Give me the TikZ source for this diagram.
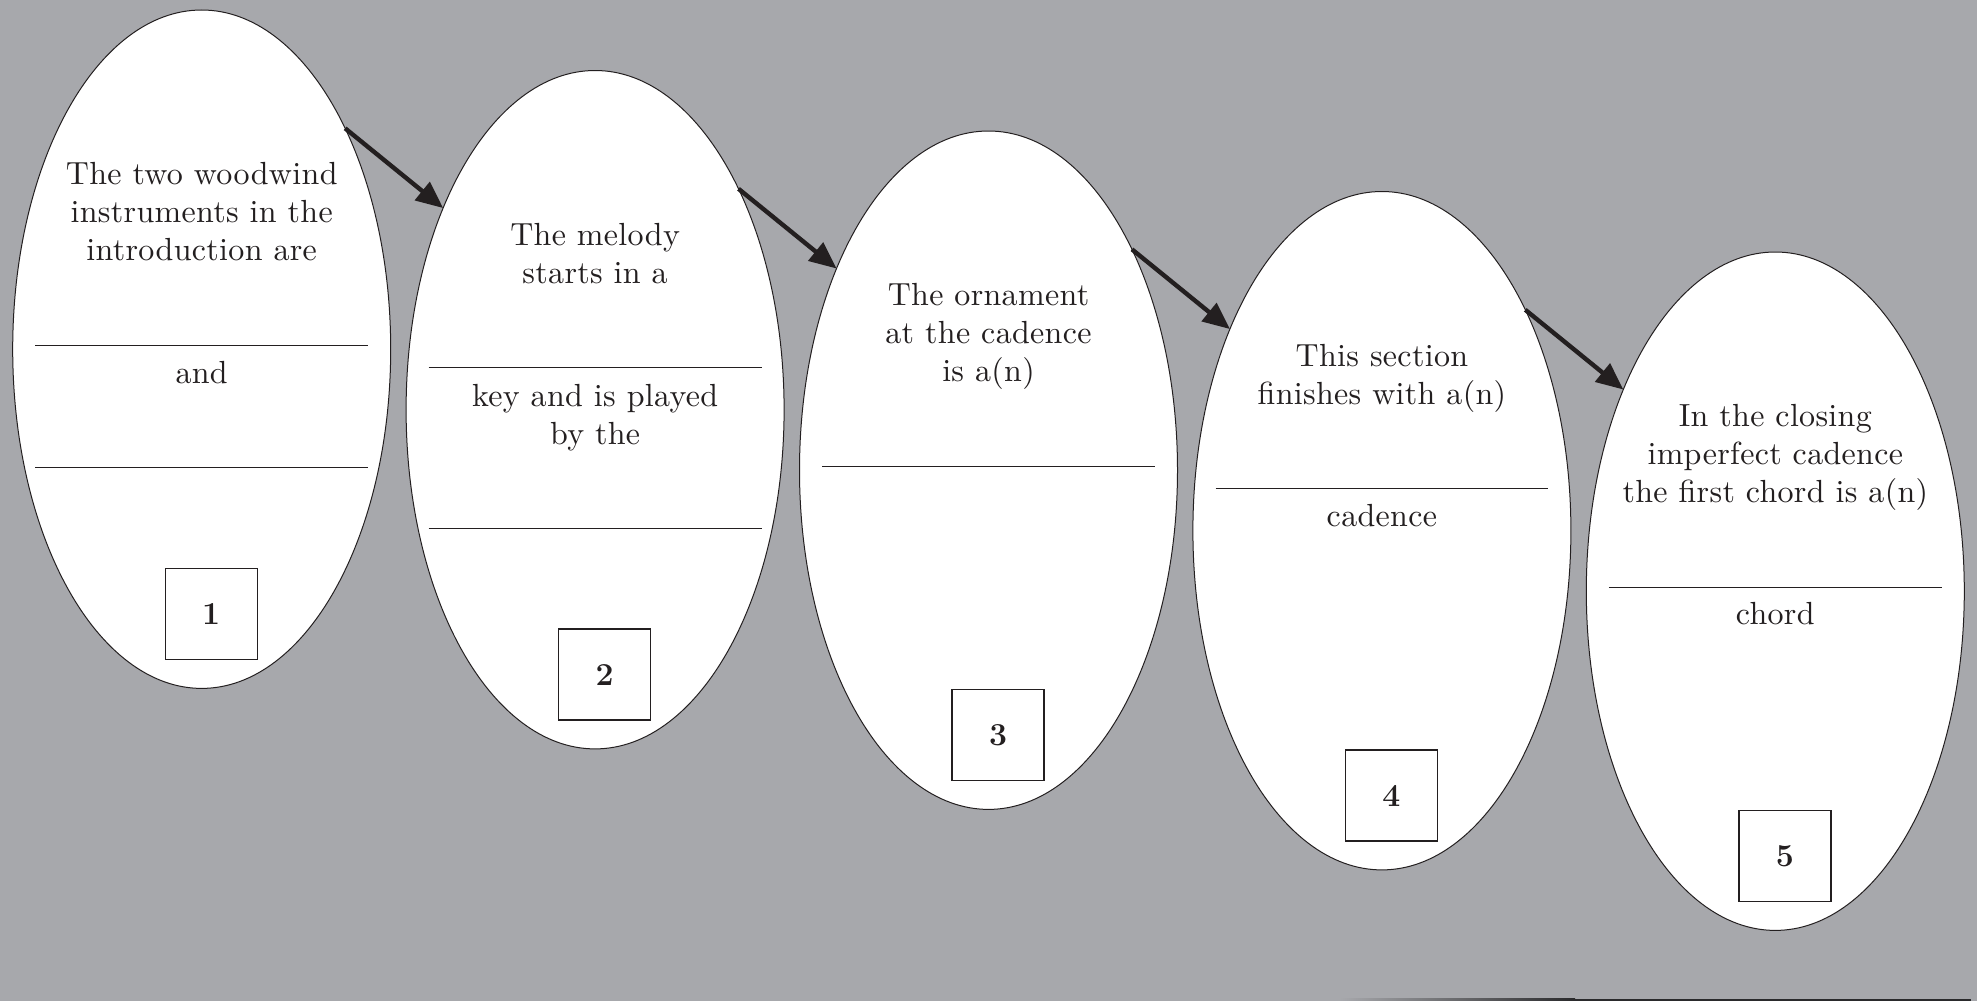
\documentclass[tikz,border=0pt]{standalone}
\usepackage{fontspec}
\newfontfamily\ovalfont{lmroman10-regular.otf}[LetterSpace=1]
\usetikzlibrary{shapes.geometric,arrows.meta}
\definecolor{bg}{HTML}{A7A8AC}
\definecolor{ink}{HTML}{231F20}
\definecolor{edge}{HTML}{2A2A2C}
\begin{document}
\begin{tikzpicture}[x=0.5pt,y=-0.5pt,
  oval/.style={ellipse,draw=ink,line width=0.5pt,fill=white,minimum width=189pt,minimum height=339.2pt,inner sep=0pt,outer sep=0pt},
  txt/.style={anchor=north,align=center,font=\ovalfont\fontsize{16}{18.85}\selectfont,text=ink,inner sep=0pt},
  numbox/.style={draw=ink,line width=0.7pt,fill=white,minimum width=46pt,minimum height=45.5pt,inner sep=0pt,font=\fontsize{16}{18}\selectfont\bfseries,text=ink},
  blank/.style={draw=ink,line width=0.6pt},
  flow/.style={draw=ink,line width=2.2pt,-{Triangle[length=13.5pt,width=11.5pt]}}
]
% background
\fill[bg] (0,0) rectangle (1977,1001);
\useasboundingbox (0,0) rectangle (1977,1001);
\shade[left color=bg,right color=edge] (1340,998.5) rectangle (1575,1001);
\fill[edge] (1575,998.5) rectangle (1971,1001);

% ovals
\node[oval] (e1) at (201.7,349.2) {};
\node[oval] (e2) at (595.1,409.7) {};
\node[oval] (e3) at (988.5,470.2) {};
\node[oval] (e4) at (1381.9,530.7) {};
\node[oval] (e5) at (1775.3,591.2) {};

% oval 1
\node[txt] (t1) at ([shift={(0,-187)}]e1.center) {The two woodwind\\instruments in the\\introduction are};
\draw[blank] ([shift={(-166.4,-4)}]e1.center) -- ([shift={(166.4,-4)}]e1.center);
\node[txt] (a1) at ([shift={(0,11.8)}]e1.center) {and};
\draw[blank] ([shift={(-166.4,118.5)}]e1.center) -- ([shift={(166.4,118.5)}]e1.center);
\node[numbox] (n1) at ([shift={(9.5,264.8)}]e1.center) {1};

% oval 2
\node[txt] (t2) at ([shift={(0,-187)}]e2.center) {The melody\\starts in a};
\draw[blank] ([shift={(-166.4,-42)}]e2.center) -- ([shift={(166.4,-42)}]e2.center);
\node[txt] (a2) at ([shift={(0,-25.7)}]e2.center) {key and is played\\by the};
\draw[blank] ([shift={(-166.4,118.5)}]e2.center) -- ([shift={(166.4,118.5)}]e2.center);
\node[numbox] (n2) at ([shift={(9.5,264.8)}]e2.center) {2};

% oval 3
\node[txt] (t3) at ([shift={(0,-187)}]e3.center) {The ornament\\at the cadence\\is a(n)};
\draw[blank] ([shift={(-166.4,-4)}]e3.center) -- ([shift={(166.4,-4)}]e3.center);
\node[numbox] (n3) at ([shift={(9.5,264.8)}]e3.center) {3};

% oval 4
\node[txt] (t4) at ([shift={(0,-187)}]e4.center) {This section\\finishes with a(n)};
\draw[blank] ([shift={(-166.4,-42)}]e4.center) -- ([shift={(166.4,-42)}]e4.center);
\node[txt] (a4) at ([shift={(0,-26.7)}]e4.center) {cadence};
\node[numbox] (n4) at ([shift={(9.5,264.8)}]e4.center) {4};

% oval 5
\node[txt] (t5) at ([shift={(0,-187)}]e5.center) {In the closing\\imperfect cadence\\the first chord is a(n)};
\draw[blank] ([shift={(-166.4,-4)}]e5.center) -- ([shift={(166.4,-4)}]e5.center);
\node[txt] (a5) at ([shift={(0,11)}]e5.center) {chord};
\node[numbox] (n5) at ([shift={(9.5,264.8)}]e5.center) {5};

% arrows
\draw[flow] (e1.57) -- (e2.127.4);
\draw[flow] (e2.57) -- (e3.127.4);
\draw[flow] (e3.57) -- (e4.127.4);
\draw[flow] (e4.57) -- (e5.127.4);
\end{tikzpicture}
\end{document}
